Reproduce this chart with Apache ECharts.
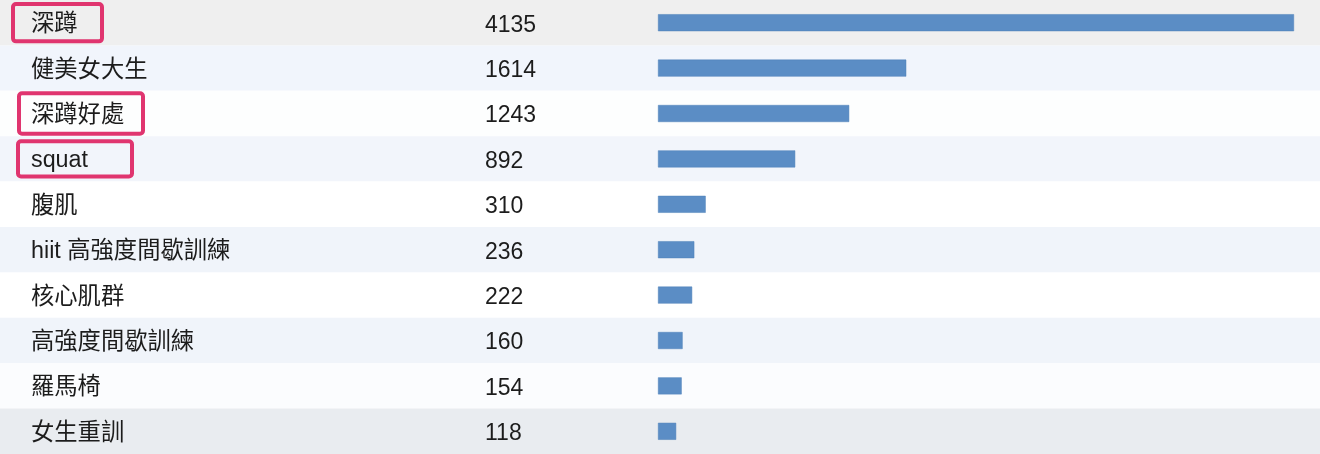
<!DOCTYPE html>
<html>
<head>
<meta charset="utf-8">
<script src="https://cdn.jsdelivr.net/npm/echarts@6/dist/echarts.min.js"></script>
<style>
html,body{margin:0;padding:0;background:#fff;}
#chart{width:1320px;height:454px;}
</style>
</head>
<body>
<div id="chart"></div>
<script>
const keywords = ['深蹲', '健美女大生', '深蹲好處', 'squat', '腹肌', 'hiit 高強度間歇訓練', '核心肌群', '高強度間歇訓練', '羅馬椅', '女生重訓'];
const counts = [4135, 1614, 1243, 892, 310, 236, 222, 160, 154, 118];
const highlighted = ['深蹲', '深蹲好處', 'squat'];
const rowColors = ['#efefef', '#f1f5fc', '#fdfefe', '#f2f5fb', '#ffffff', '#f0f4fa', '#ffffff', '#f0f4fa', '#fbfcfe', '#e9ecf0'];

const FONT = '"Liberation Sans", "Noto Sans CJK TC", sans-serif';
const PINK = '#e0356f';
const baseText = {fontFamily: FONT, fontSize: 23.3, color: '#1c1c1c', lineHeight: 26};
const hlBox = (pad, w) => Object.assign({}, baseText, {
  padding: pad, width: w, align: 'left',
  borderColor: PINK, borderWidth: 4, borderRadius: 3
});
const chart = echarts.init(document.getElementById('chart'), null, {renderer: 'canvas'});
chart.setOption({
  animation: false,
  backgroundColor: '#ffffff',
  grid: [
    {left: 0, right: 0, top: 0, bottom: 0},
    {left: 658, right: 26, top: 0, bottom: 0}
  ],
  xAxis: [
    {gridIndex: 0, type: 'value', show: false, min: 0, max: 1},
    {gridIndex: 1, type: 'value', show: false, min: 0, max: 4135}
  ],
  yAxis: [
    {
      gridIndex: 0, type: 'category', inverse: true, data: keywords,
      axisLine: {show: false}, axisTick: {show: false}, axisLabel: {show: false},
      splitLine: {show: false},
      splitArea: {show: true, areaStyle: {color: rowColors}}
    },
    {
      gridIndex: 1, type: 'category', inverse: true, data: keywords,
      axisLine: {show: false}, axisTick: {show: false},
      axisLabel: {
        margin: 645, align: 'left',
        formatter: v => {
          const i = highlighted.indexOf(v);
          if (i < 0) return '{n|' + v + '}';
          return '{g' + i + '| }{h' + i + '|' + v + '}';
        },
        rich: {
          n: Object.assign({}, baseText, {padding: [4, 0, 0, 18]}),
          g0: {width: 0, fontSize: 1},
          g1: {width: 6, fontSize: 1},
          g2: {width: 5, fontSize: 1},
          h0: hlBox([9, 0, 5, 18], 71),
          h1: hlBox([11, 0, 6, 12], 112),
          h2: hlBox([8, 0, 4, 13], 101)
        }
      }
    },
    {
      gridIndex: 1, type: 'category', inverse: true, position: 'left', data: counts.map(String),
      axisLine: {show: false}, axisTick: {show: false},
      axisLabel: {
        margin: 173, align: 'left',
        formatter: v => '{v|' + v + '}',
        rich: {v: {fontFamily: FONT, fontSize: 23, color: '#1c1c1c', lineHeight: 26, padding: [5, 0, 0, 0]}}
      }
    }
  ],
  series: [{
    type: 'bar', xAxisIndex: 1, yAxisIndex: 1, data: counts,
    barWidth: 17,
    itemStyle: {color: '#5b8dc5', borderColor: '#4f81b8', borderWidth: 0.5},
    silent: true
  }]
});
</script>
</body>
</html>
